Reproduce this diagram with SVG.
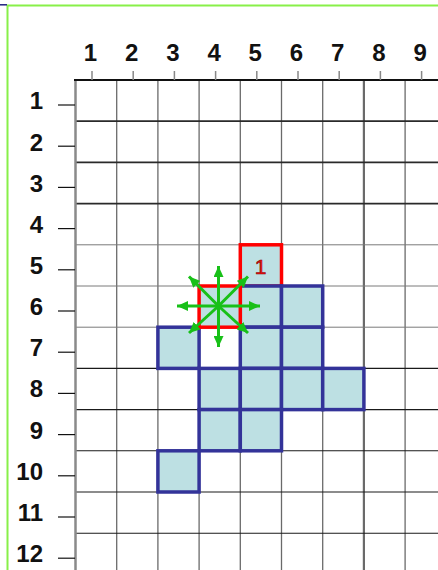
<svg xmlns="http://www.w3.org/2000/svg" width="438" height="570" viewBox="0 0 438 570">
<style>
.lbl{font-family:"Liberation Sans",Arial,sans-serif;font-weight:bold;font-size:24px;fill:#111}
.vg{stroke:#6a6a6a;stroke-width:1.3}
.hd{stroke:#2a2a2a;stroke-width:1.8}
.hl{stroke:#7a7a7a;stroke-width:1}
.hb{stroke:#1a1a1a;stroke-width:1.1}
.tk{stroke:#111;stroke-width:1.2}
.ct{stroke:#888;stroke-width:1.5}
.cell{fill:#bde0e3;stroke:#333399;stroke-width:3.5}
.red{fill:#bde0e3;stroke:#ff0000;stroke-width:3.5}
.arr{stroke:#18c018;stroke-width:3;marker-end:url(#ah)}
</style>
<defs>
<marker id="ah" markerUnits="userSpaceOnUse" markerWidth="11" markerHeight="10" refX="11" refY="5" orient="auto">
<path d="M0,0 L11,5 L0,10 z" fill="#18c018"/>
</marker>
</defs>
<rect width="438" height="570" fill="#fff"/>
<g id="frame">
<line x1="7" y1="5.5" x2="438" y2="5.5" stroke="#88f048" stroke-width="2"/>
<line x1="7.5" y1="5" x2="7.5" y2="570" stroke="#88f048" stroke-width="2"/>
<line x1="0" y1="4.8" x2="7" y2="4.8" stroke="#202080" stroke-width="1.5"/>
</g>
<g id="grid">
<line class="vg" x1="116.7" y1="80" x2="116.7" y2="570"/>
<line class="vg" x1="157.9" y1="80" x2="157.9" y2="570"/>
<line class="vg" x1="199.1" y1="80" x2="199.1" y2="570"/>
<line class="vg" x1="240.3" y1="80" x2="240.3" y2="570"/>
<line class="vg" x1="281.5" y1="80" x2="281.5" y2="570"/>
<line class="vg" x1="322.7" y1="80" x2="322.7" y2="570"/>
<line class="vg" x1="363.9" y1="80" x2="363.9" y2="570" style="stroke-width:2.2"/>
<line class="vg" x1="405.1" y1="80" x2="405.1" y2="570"/>
<line class="hd" x1="75" y1="121.2" x2="438" y2="121.2"/>
<line class="hd" x1="75" y1="162.4" x2="438" y2="162.4"/>
<line class="hd" x1="75" y1="203.6" x2="438" y2="203.6"/>
<line class="hl" x1="75" y1="244.8" x2="438" y2="244.8"/>
<line class="hl" x1="75" y1="286" x2="438" y2="286"/>
<line class="hl" x1="75" y1="327.2" x2="438" y2="327.2"/>
<line class="hb" x1="75" y1="368.4" x2="438" y2="368.4"/>
<line class="hb" x1="75" y1="409.6" x2="438" y2="409.6"/>
<line class="hb" x1="75" y1="450.8" x2="438" y2="450.8"/>
<line class="hb" x1="75" y1="492" x2="438" y2="492"/>
<line class="hb" x1="75" y1="533.2" x2="438" y2="533.2"/>
<line x1="75.5" y1="80" x2="75.5" y2="570" stroke="#8a8a8a" stroke-width="2.5"/>
<line x1="74" y1="80" x2="438" y2="80" stroke="#111" stroke-width="2"/>
</g>
<g id="col-axis">
<line class="ct" x1="92" y1="71" x2="92" y2="80"/>
<line class="ct" x1="133.2" y1="71" x2="133.2" y2="80"/>
<line class="ct" x1="174.4" y1="71" x2="174.4" y2="80"/>
<line class="ct" x1="215.6" y1="71" x2="215.6" y2="80"/>
<line class="ct" x1="256.8" y1="71" x2="256.8" y2="80"/>
<line class="ct" x1="298" y1="71" x2="298" y2="80"/>
<line class="ct" x1="339.2" y1="71" x2="339.2" y2="80"/>
<line class="ct" x1="380.4" y1="71" x2="380.4" y2="80"/>
<line class="ct" x1="421.6" y1="71" x2="421.6" y2="80"/>
<g class="lbl" text-anchor="middle">
<text x="90.5" y="61">1</text>
<text x="131.7" y="61">2</text>
<text x="172.9" y="61">3</text>
<text x="214.1" y="61">4</text>
<text x="255.3" y="61">5</text>
<text x="296.5" y="61">6</text>
<text x="337.7" y="61">7</text>
<text x="378.9" y="61">8</text>
<text x="420.1" y="61">9</text>
</g>
</g>
<g id="row-axis">
<line class="tk" x1="58" y1="105" x2="75" y2="105"/>
<line class="tk" x1="58" y1="146.2" x2="75" y2="146.2"/>
<line class="tk" x1="58" y1="187.4" x2="75" y2="187.4"/>
<line class="tk" x1="58" y1="228.6" x2="75" y2="228.6"/>
<line class="tk" x1="58" y1="269.8" x2="75" y2="269.8"/>
<line class="tk" x1="58" y1="311" x2="75" y2="311"/>
<line class="tk" x1="58" y1="352.2" x2="75" y2="352.2"/>
<line class="tk" x1="58" y1="393.4" x2="75" y2="393.4"/>
<line class="tk" x1="58" y1="434.6" x2="75" y2="434.6"/>
<line class="tk" x1="58" y1="475.8" x2="75" y2="475.8"/>
<line class="tk" x1="58" y1="517" x2="75" y2="517"/>
<line class="tk" x1="58" y1="558.2" x2="75" y2="558.2"/>
<g class="lbl" text-anchor="end">
<text x="43" y="109.3">1</text>
<text x="43" y="150.5">2</text>
<text x="43" y="191.6">3</text>
<text x="43" y="232.8">4</text>
<text x="43" y="273.9">5</text>
<text x="43" y="315">6</text>
<text x="43" y="356.2">7</text>
<text x="43" y="397.4">8</text>
<text x="43" y="438.5">9</text>
<text x="43" y="479.7">10</text>
<text x="43" y="520.8">11</text>
<text x="43" y="562">12</text>
</g>
</g>
<g id="cell-5-5">
<rect class="red" x="240.3" y="244.8" width="41.2" height="41.2"/>
<text x="260.5" y="273.5" text-anchor="middle" font-family="Liberation Sans, Arial, sans-serif" font-size="21" fill="#ee1010" stroke="#8a0000" stroke-width="0.6">1</text>
</g>
<g id="cells">
<rect class="cell" x="240.3" y="286" width="41.2" height="41.2"/>
<rect class="cell" x="281.5" y="286" width="41.2" height="41.2"/>
<rect class="cell" x="157.9" y="327.2" width="41.2" height="41.2"/>
<rect class="cell" x="240.3" y="327.2" width="41.2" height="41.2"/>
<rect class="cell" x="281.5" y="327.2" width="41.2" height="41.2"/>
<rect class="cell" x="199.1" y="368.4" width="41.2" height="41.2"/>
<rect class="cell" x="240.3" y="368.4" width="41.2" height="41.2"/>
<rect class="cell" x="281.5" y="368.4" width="41.2" height="41.2"/>
<rect class="cell" x="322.7" y="368.4" width="41.2" height="41.2"/>
<rect class="cell" x="199.1" y="409.6" width="41.2" height="41.2"/>
<rect class="cell" x="240.3" y="409.6" width="41.2" height="41.2"/>
<rect class="cell" x="157.9" y="450.8" width="41.2" height="41.2"/>
</g>
<g id="cell-4-6">
<rect class="red" x="199.1" y="286" width="41.2" height="41.2"/>
</g>
<g id="connectors">
<line class="arr" x1="218.5" y1="306" x2="218.5" y2="266"/>
<line class="arr" x1="218.5" y1="306" x2="218.5" y2="347"/>
<line class="arr" x1="218.5" y1="306" x2="177" y2="306"/>
<line class="arr" x1="218.5" y1="306" x2="260" y2="306"/>
<line class="arr" x1="218.5" y1="306" x2="189" y2="276.5"/>
<line class="arr" x1="218.5" y1="306" x2="248" y2="276.5"/>
<line class="arr" x1="218.5" y1="306" x2="189" y2="333"/>
<line class="arr" x1="218.5" y1="306" x2="248" y2="333"/>
</g>
</svg>
